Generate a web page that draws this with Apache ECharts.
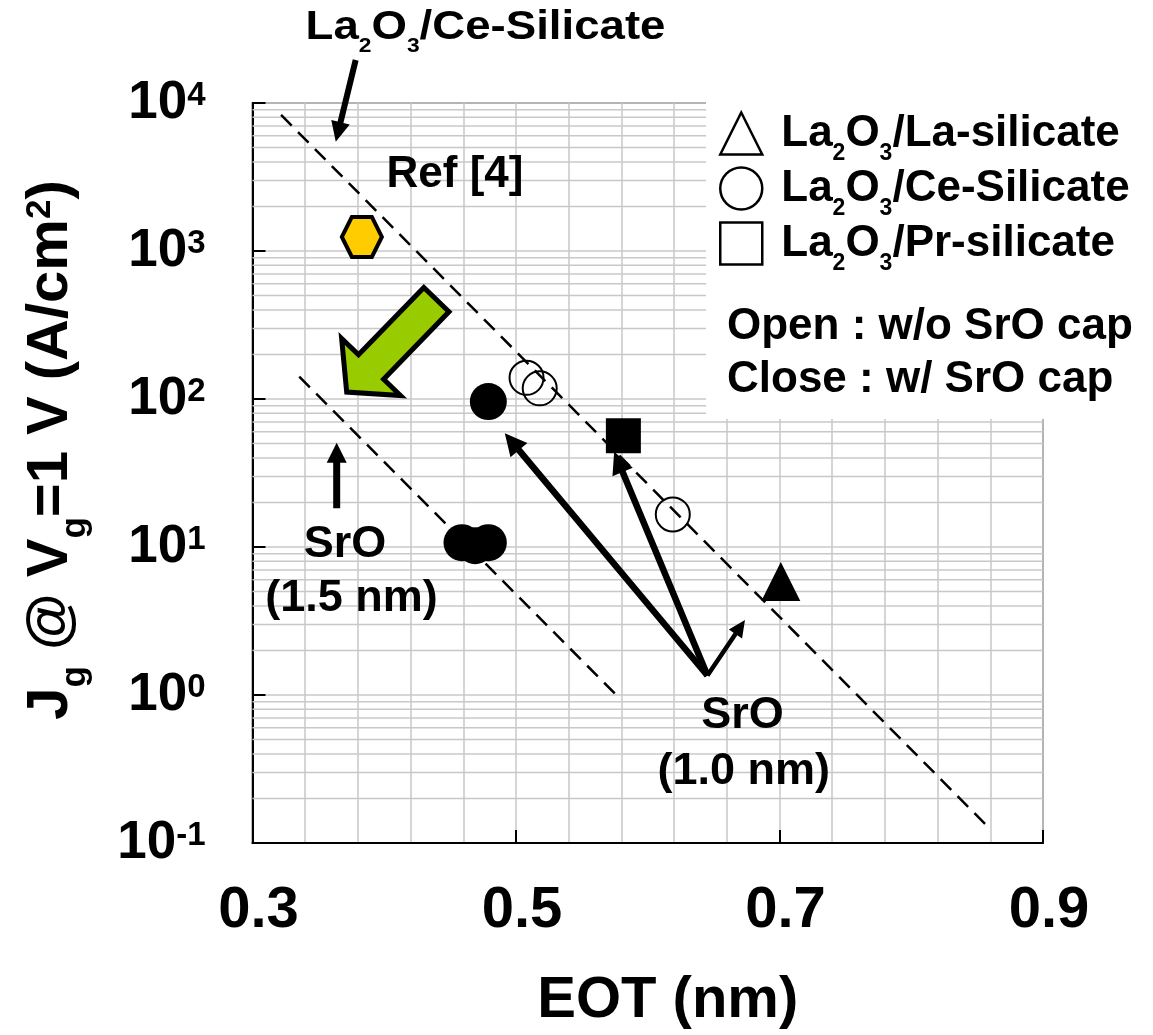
<!DOCTYPE html>
<html>
<head>
<meta charset="utf-8">
<script src="https://cdn.jsdelivr.net/npm/echarts@6/dist/echarts.min.js"></script>
<style>
  html, body { margin: 0; padding: 0; background: #fff; }
  #chart { width: 1153px; height: 1035px; }
</style>
</head>
<body>
<div id="chart"></div>
<script>
const FONT = "'Liberation Sans', Arial, Helvetica, sans-serif";

// ---- axes ----
const xTicks = [0.3, 0.5, 0.7, 0.9];            // EOT (nm)
const yDecades = [-1, 0, 1, 2, 3, 4];           // Jg = 10^n A/cm2
const minorSteps = [2, 3, 4, 5, 6, 7, 8, 9];     // log minor grid inside each decade

// ---- measured points: Jg @ Vg = 1 V vs EOT ----
const refX = [0.383];                 const refY = [1245];           // Ref [4]
const laX = [0.701];                  const laY = [5.85];            // La2O3/La-silicate (w/ SrO)
const ceOpenX = [0.508, 0.518, 0.619]; const ceOpenY = [139, 118, 16.6];       // Ce-silicate, w/o SrO
const ceCapX = [0.479, 0.459, 0.469, 0.479]; const ceCapY = [96, 10.7, 10.2, 10.7]; // Ce-silicate, w/ SrO
const prX = [0.5815];                 const prY = [56.5];            // Pr-silicate (w/ SrO)

// ---- dashed guide lines ----
const guideUpperX = [0.3217, 0.857];  const guideUpperY = [8300, 0.132];
const guideLowerX = [0.3355, 0.5752]; const guideLowerY = [141.5, 1.02];

// ---- annotation arrows (tail -> head) ----
const arrowFromX = [0.3783, 0.3639, 0.6453, 0.6453, 0.6453, 0.4396];
const arrowFromY = [19520, 18.26, 1.354, 1.354, 1.354, 469.4];
const arrowToX   = [0.3632, 0.3639, 0.4915, 0.5745, 0.6738, 0.3715];
const arrowToY   = [5476, 50.7, 58.66, 44.06, 3.213, 111.3];
const arrowKind  = ['thin', 'up', 'long', 'long', 'short', 'block'];

const arrowLook = {
  thin:  { shaft: 6,   headW: 19, headL: 20, fill: '#000' },
  up:    { shaft: 7,   headW: 20, headL: 20, fill: '#000' },
  long:  { shaft: 6.5, headW: 22, headL: 22, fill: '#000' },
  short: { shaft: 4.5, headW: 16, headL: 17, fill: '#000' },
  block: { shaft: 35,  headW: 82, headL: 35, fill: '#99CC00', stroke: '#000', lineWidth: 5 }
};

const minorY = [];
yDecades.slice(0, -1).forEach(d => minorSteps.forEach(k => minorY.push(k * Math.pow(10, d))));

const txt = (size, extra) => Object.assign({ fontSize: size, fontWeight: 'bold', fontFamily: FONT, color: '#000', lineHeight: size }, extra || {});

const chart = echarts.init(document.getElementById('chart'), null, { renderer: 'canvas' });

const hexPath = 'path://M0,50 L25,6.7 L75,6.7 L100,50 L75,93.3 L25,93.3 Z';

const ceData = ceOpenX.map((x, i) => ({
  value: [x, ceOpenY[i]], symbolSize: 34,
  itemStyle: { color: 'rgba(0,0,0,0)', borderColor: '#000', borderWidth: 2, opacity: 1 }
})).concat(ceCapX.map((x, i) => ({
  value: [x, ceCapY[i]], symbolSize: 37,
  itemStyle: { color: '#000', borderWidth: 0, opacity: 1 }
})));

const legendRich = {
  tf: txt(44, { padding: [0, 0, 0, 14] }),
  t: txt(44),
  s: txt(23, { padding: [40, 0, 0, 0] })
};

function arrowPoints(p0, p1, look) {
  const dx = p1[0] - p0[0], dy = p1[1] - p0[1];
  const len = Math.sqrt(dx * dx + dy * dy);
  const ux = dx / len, uy = dy / len;
  const nx = -uy, ny = ux;
  const bx = p1[0] - ux * look.headL, by = p1[1] - uy * look.headL;
  const w = look.shaft / 2, h = look.headW / 2;
  return [
    [p0[0] + nx * w, p0[1] + ny * w],
    [bx + nx * w, by + ny * w],
    [bx + nx * h, by + ny * h],
    [p1[0], p1[1]],
    [bx - nx * h, by - ny * h],
    [bx - nx * w, by - ny * w],
    [p0[0] - nx * w, p0[1] - ny * w]
  ];
}

const centerText = (x, y, text, size) => ({
  type: 'text', z: 20, x, y,
  style: { text, font: 'bold ' + size + 'px ' + FONT, fill: '#000', align: 'center', verticalAlign: 'middle', textAlign: 'center', textVerticalAlign: 'middle' }
});
const leftText = (x, y, text, size) => ({
  type: 'text', z: 20, x, y,
  style: { text, font: 'bold ' + size + 'px ' + FONT, fill: '#000', align: 'left', verticalAlign: 'middle', textAlign: 'left', textVerticalAlign: 'middle' }
});

const option = {
  animation: false,
  backgroundColor: '#fff',
  grid: {
    left: 248, top: 103, right: 110, bottom: 192,
    show: true, borderColor: '#7a7a7a', borderWidth: 2, backgroundColor: 'transparent'
  },
  xAxis: {
    type: 'value',
    min: xTicks[0], max: xTicks[xTicks.length - 1], interval: 0.2,
    name: 'EOT (nm)',
    nameLocation: 'middle',
    nameGap: 129,
    nameTextStyle: txt(58, { padding: [0, 0, 0, 40] }),
    axisLine: { show: true, onZero: false, lineStyle: { color: '#000', width: 2 } },
    axisTick: { show: true, inside: true, length: 13, lineStyle: { color: '#000', width: 2 } },
    minorTick: { show: false, splitNumber: 5 },
    splitLine: { show: true, lineStyle: { color: '#c8c8c8', width: 1.5 } },
    minorSplitLine: { show: true, lineStyle: { color: '#c8c8c8', width: 1.5 } },
    axisLabel: {
      margin: 39,
      formatter: v => v.toFixed(1),
      ...txt(58, { padding: [0, 0, 0, 12] })
    }
  },
  yAxis: {
    type: 'log',
    logBase: 10,
    min: Math.pow(10, yDecades[0]),
    max: Math.pow(10, yDecades[yDecades.length - 1]),
    name: '{t|J}{s|g}{t| @ V}{s|g}{t|=1 V (A/cm}{p|2}{t|)}',
    nameLocation: 'middle',
    nameRotate: 90,
    nameGap: 173,
    nameTextStyle: {
      padding: [0, 0, 0, 46],
      rich: {
        t: txt(58),
        s: txt(35, { padding: [50, 0, 0, 0] }),
        p: txt(35, { padding: [0, 0, 21, 0] })
      }
    },
    axisLine: { show: true, lineStyle: { color: '#000', width: 2 } },
    axisTick: { show: true, inside: true, length: 13, lineStyle: { color: '#000', width: 2 } },
    splitLine: { show: true, lineStyle: { color: '#c8c8c8', width: 1.5 } },
    axisLabel: {
      margin: 47,
      formatter: v => '{b|10}{p|' + Math.round(Math.log10(v)) + '}',
      rich: {
        b: txt(53),
        p: txt(33, { padding: [0, 0, 15, 0] })
      }
    }
  },
  legend: {
    show: true,
    orient: 'vertical',
    left: 719, top: 102,
    padding: 0,
    itemGap: -8,
    itemWidth: 42, itemHeight: 42,
    selectedMode: false,
    z: 30,
    data: [
      { name: 'La-silicate', icon: 'triangle', itemStyle: { color: '#fff', borderColor: '#000', borderWidth: 2.5 } },
      { name: 'Ce-Silicate', icon: 'circle',   itemStyle: { color: '#fff', borderColor: '#000', borderWidth: 2.5 } },
      { name: 'Pr-silicate', icon: 'rect',     itemStyle: { color: '#fff', borderColor: '#000', borderWidth: 2.5 } }
    ],
    formatter: name => '{tf|La}{s|2}{t|O}{s|3}{t|/' + name + '}',
    textStyle: { rich: legendRich }
  },
  graphic: [
    // white panel behind the legend text block
    { type: 'rect', z: 10, silent: true, shape: { x: 706, y: 92, width: 447, height: 327 }, style: { fill: '#fff' } },
    {
      type: 'text', z: 20, x: 485.5, y: 28, scaleX: 1.14,
      style: {
        text: '{b|La}{s|2}{b|O}{s|3}{b|/Ce-Silicate}',
        align: 'center', verticalAlign: 'middle', textAlign: 'center', textVerticalAlign: 'middle',
        rich: { b: txt(40), s: txt(20, { padding: [36, 0, 0, 0] }) }
      }
    },
    centerText(455, 175, 'Ref [4]', 44),
    centerText(345, 545, 'SrO', 45),
    centerText(351.5, 599, '(1.5 nm)', 45),
    centerText(742.5, 716, 'SrO', 45),
    centerText(743.7, 772, '(1.0 nm)', 45),
    leftText(727, 327, 'Open : w/o SrO cap', 44),
    leftText(727, 380, 'Close : w/ SrO cap', 44)
  ],
  series: [
    {
      // minor log grid lines (2..9 x 10^n)
      type: 'custom',
      name: 'minor grid',
      z: 1,
      silent: true,
      clip: true,
      data: minorY.map(v => [xTicks[0], v]),
      encode: { x: 0, y: 1 },
      renderItem: (params, api) => {
        const v = api.value(1);
        const a = api.coord([xTicks[0], v]);
        const b = api.coord([xTicks[xTicks.length - 1], v]);
        return { type: 'line', shape: { x1: a[0], y1: a[1], x2: b[0], y2: b[1] }, style: { stroke: '#c8c8c8', lineWidth: 1.5 } };
      }
    },
    {
      type: 'line', name: 'guide upper', z: 2, silent: true,
      showSymbol: false, symbol: 'none',
      data: guideUpperX.map((x, i) => [x, guideUpperY[i]]),
      lineStyle: { color: '#000', width: 2.5, type: [15, 9] }
    },
    {
      type: 'line', name: 'guide lower', z: 2, silent: true,
      showSymbol: false, symbol: 'none',
      data: guideLowerX.map((x, i) => [x, guideLowerY[i]]),
      lineStyle: { color: '#000', width: 2.5, type: [15, 9] }
    },
    {
      type: 'scatter', name: 'Ref [4]', z: 3,
      symbol: hexPath, symbolSize: [40, 40],
      itemStyle: { color: '#FFCC00', borderColor: '#000', borderWidth: 4, opacity: 1 },
      data: refX.map((x, i) => [x, refY[i]])
    },
    {
      type: 'scatter', name: 'La-silicate', z: 3,
      symbol: 'triangle', symbolSize: 39,
      itemStyle: { color: '#000', opacity: 1 },
      data: laX.map((x, i) => [x, laY[i]])
    },
    {
      type: 'scatter', name: 'Ce-Silicate', z: 3,
      symbol: 'circle',
      itemStyle: { color: '#000', opacity: 1 },
      data: ceData
    },
    {
      type: 'scatter', name: 'Pr-silicate', z: 3,
      symbol: 'rect', symbolSize: 35,
      itemStyle: { color: '#000', opacity: 1 },
      data: prX.map((x, i) => [x, prY[i]])
    },
    {
      type: 'custom', name: 'arrows', z: 4, silent: true, clip: false,
      data: arrowFromX.map((x, i) => [x, arrowFromY[i], arrowToX[i], arrowToY[i]]),
      encode: { x: [0, 2], y: [1, 3] },
      renderItem: (params, api) => {
        const look = arrowLook[arrowKind[params.dataIndex]];
        const p0 = api.coord([api.value(0), api.value(1)]);
        const p1 = api.coord([api.value(2), api.value(3)]);
        const style = { fill: look.fill };
        if (look.stroke) { style.stroke = look.stroke; style.lineWidth = look.lineWidth; style.lineJoin = 'miter'; }
        return { type: 'polygon', shape: { points: arrowPoints(p0, p1, look) }, style };
      }
    }
  ]
};

chart.setOption(option);
</script>
</body>
</html>
